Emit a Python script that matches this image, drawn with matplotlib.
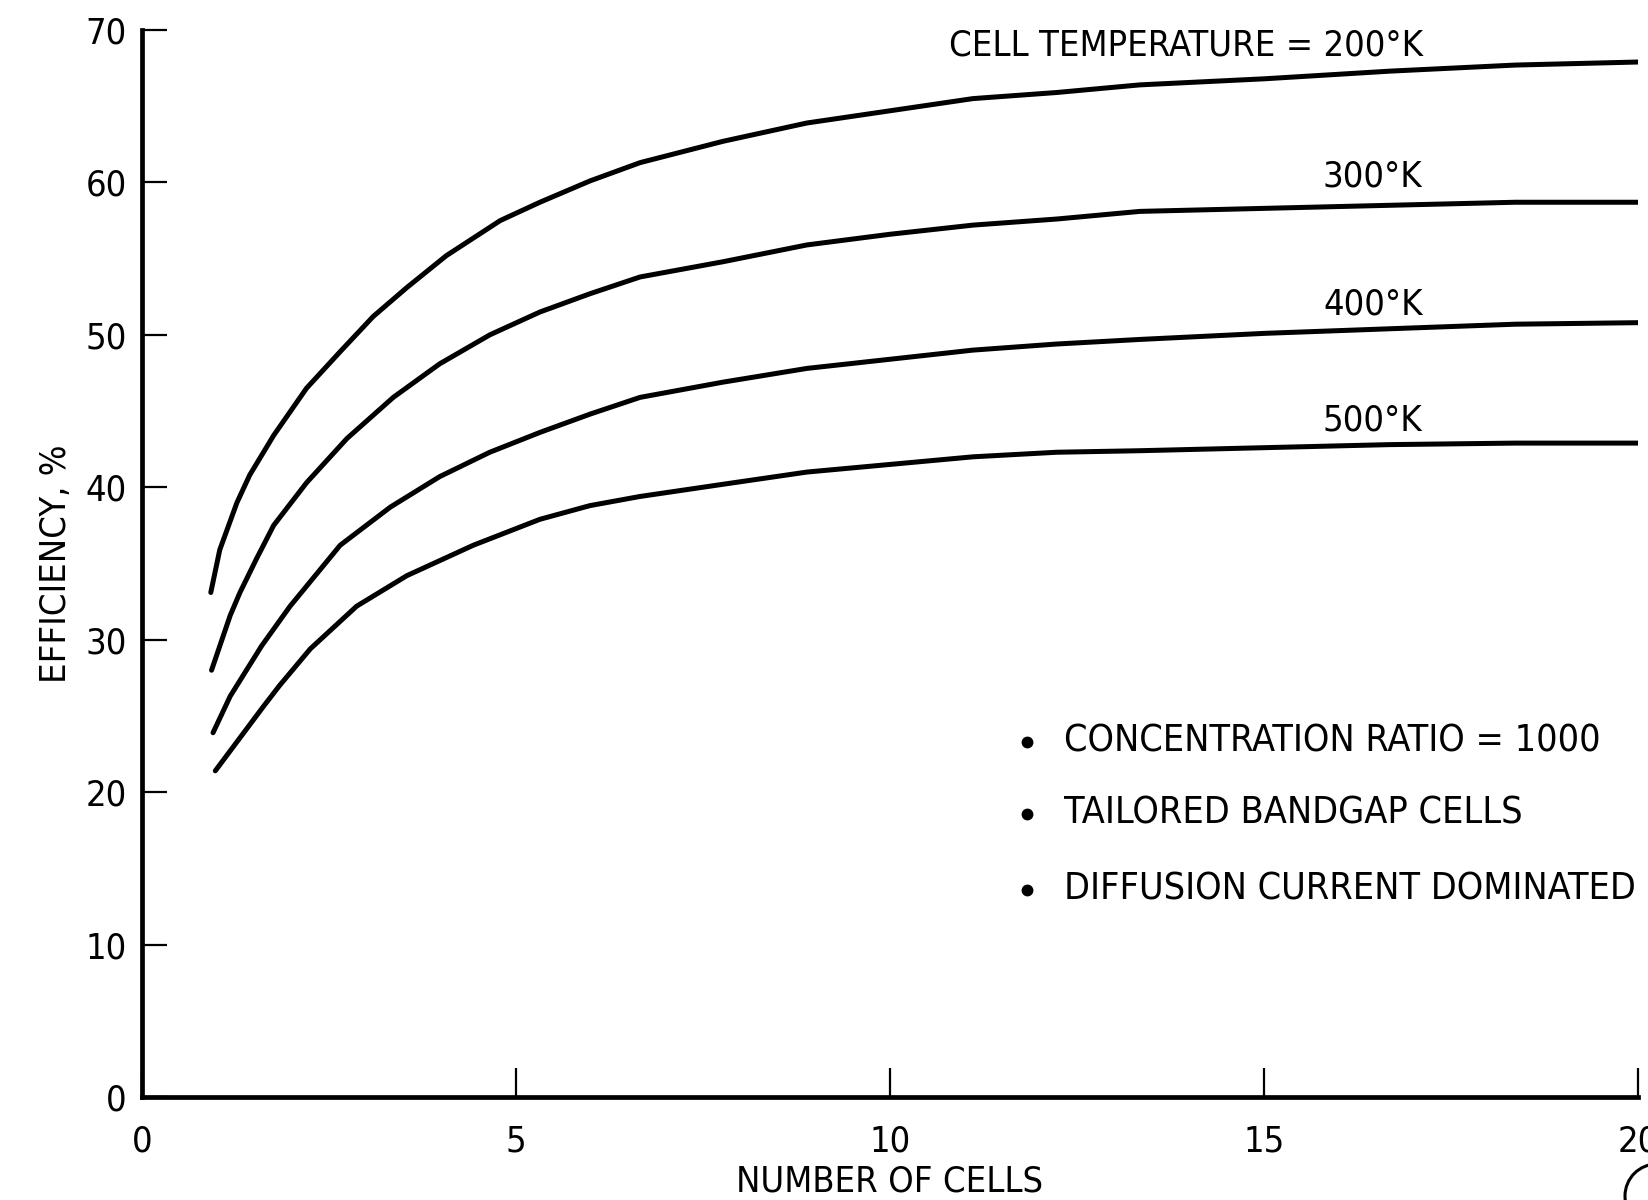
import numpy as np
import matplotlib
matplotlib.use('Agg')
import matplotlib.pyplot as plt
from matplotlib import font_manager
from matplotlib.patches import Circle

# values (number of cells vs efficiency in %)
x_200 = [0.92, 1.04, 1.27, 1.44, 1.76, 2.20, 2.65, 3.09, 3.54, 4.07, 4.79, 5.32,
         5.99, 6.66, 7.77, 8.89, 10.0, 11.11, 12.23, 13.34, 15.01, 16.68, 18.36, 20.0]
eff_200 = [33.1, 35.9, 39.0, 40.8, 43.4, 46.5, 48.9, 51.2, 53.1, 55.2, 57.5, 58.7,
           60.1, 61.3, 62.7, 63.9, 64.7, 65.5, 65.9, 66.4, 66.8, 67.3, 67.7, 67.9]

x_300 = [0.93, 1.18, 1.31, 1.53, 1.76, 2.20, 2.74, 3.36, 3.98, 4.65, 5.32, 5.99,
         6.66, 7.77, 8.89, 10.0, 11.11, 12.23, 13.34, 15.01, 16.68, 18.36, 20.0]
eff_300 = [28.0, 31.6, 33.1, 35.3, 37.5, 40.3, 43.2, 45.9, 48.1, 50.0, 51.5, 52.7,
           53.8, 54.8, 55.9, 56.6, 57.2, 57.6, 58.1, 58.3, 58.5, 58.7, 58.7]

x_400 = [0.95, 1.18, 1.60, 1.98, 2.65, 3.32, 3.98, 4.65, 5.32, 5.99, 6.66, 7.77,
         8.89, 10.0, 11.11, 12.23, 13.34, 15.01, 16.68, 18.36, 20.0]
eff_400 = [23.9, 26.3, 29.6, 32.2, 36.2, 38.7, 40.7, 42.3, 43.6, 44.8, 45.9, 46.9,
           47.8, 48.4, 49.0, 49.4, 49.7, 50.1, 50.4, 50.7, 50.8]

x_500 = [0.98, 1.62, 1.84, 2.25, 2.87, 3.54, 4.43, 5.32, 5.99, 6.66, 7.77, 8.89,
         10.0, 11.11, 12.23, 13.34, 15.01, 16.68, 18.36, 20.0]
eff_500 = [21.4, 25.6, 27.0, 29.4, 32.2, 34.2, 36.2, 37.9, 38.8, 39.4, 40.2, 41.0,
           41.5, 42.0, 42.3, 42.4, 42.6, 42.8, 42.9, 42.9]

curve_labels = ['CELL TEMPERATURE = 200°K', '300°K', '400°K', '500°K']
label_y = [69.0, 60.4, 52.0, 44.4]

notes = ['CONCENTRATION RATIO = 1000', 'TAILORED BANDGAP CELLS',
         'DIFFUSION CURRENT DOMINATED']
notes_y = [23.3, 18.6, 13.6]

xticks = [0, 5, 10, 15, 20]
yticks = [0, 10, 20, 30, 40, 50, 60, 70]

# narrow lettering like the original; shrink if no condensed face is around
font_file = font_manager.findfont(
    font_manager.FontProperties(family='DejaVu Sans', stretch='condensed'))
plt.rcParams['font.family'] = ['DejaVu Sans']
if 'ondensed' in font_file:
    plt.rcParams['font.stretch'] = 'condensed'
    fs, fs_note = 26, 27
else:
    fs, fs_note = 22, 22

fig = plt.figure(figsize=(16.49, 12), dpi=100)
ax = fig.add_axes([0.0861, 0.0858, 0.9072, 0.8892])

for xs, ys in [(x_200, eff_200), (x_300, eff_300), (x_400, eff_400), (x_500, eff_500)]:
    ax.plot(xs, ys, color='black', lw=3.6, solid_capstyle='round',
            solid_joinstyle='round')

for lab, y in zip(curve_labels, label_y):
    ax.text(17.12, y, lab, ha='right', va='center', fontsize=fs)

for note, y in zip(notes, notes_y):
    ax.plot(11.83, y, 'o', color='black', ms=7.5, clip_on=False)
    ax.text(12.33, y, note, ha='left', va='center', fontsize=fs_note, clip_on=False)

ax.set_xlim(0, 20)
ax.set_ylim(0, 70)
ax.set_xticks(xticks)
ax.set_yticks(yticks)
ax.set_xticklabels([str(t) for t in xticks], fontsize=fs)
ax.set_yticklabels([str(t) for t in yticks], fontsize=fs)

for side in ['top', 'right']:
    ax.spines[side].set_visible(False)
for side in ['left', 'bottom']:
    ax.spines[side].set_linewidth(3.4)

ax.tick_params(axis='x', direction='in', length=21, width=1.6, pad=20)
ax.tick_params(axis='y', direction='in', length=18, width=1.6, pad=11)

ax.set_xlabel('NUMBER OF CELLS', fontsize=fs, labelpad=4)
ax.set_ylabel('EFFICIENCY, %', fontsize=fs, labelpad=9)

# clipped figure-number circle in the corner
fig.patches.append(Circle((1657, 1200 - 1196), 32, transform=None, fill=False,
                          lw=2.2, color='black'))

fig.savefig('out.png', dpi=100)
